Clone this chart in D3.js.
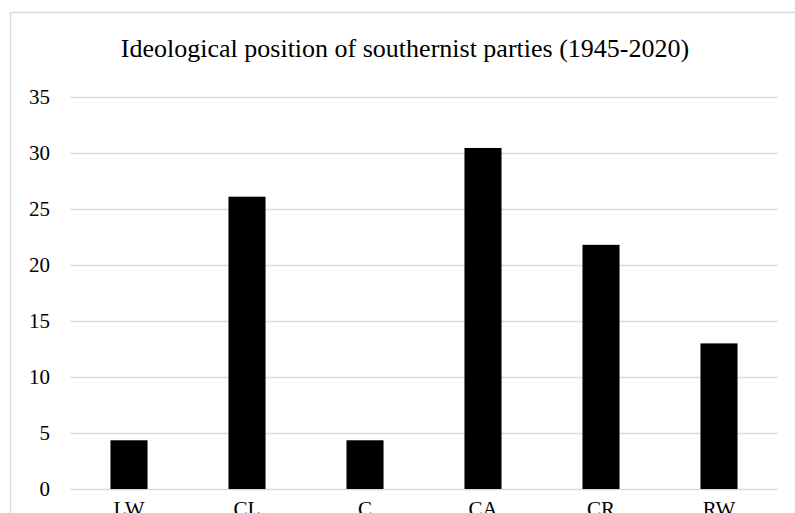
<!DOCTYPE html>
<html>
<head>
<meta charset="utf-8">
<script src="https://cdn.jsdelivr.net/npm/d3@7"></script>
<style>
  body { margin: 0; background: #fff; }
  svg { display: block; font-family: "Liberation Serif", "Times New Roman", "DejaVu Serif", serif; }
  svg text { font-family: "Liberation Serif", "Times New Roman", "DejaVu Serif", serif; }
</style>
</head>
<body>
<script>
const categories = ["LW", "CL", "C", "CA", "CR", "RW"];
const values = [4.35, 26.1, 4.35, 30.45, 21.8, 13.0];
const yTicks = [0, 5, 10, 15, 20, 25, 30, 35];
const title = "Ideological position of southernist parties (1945-2020)";

const width = 795, height = 513;
const margin = {top: 97, right: 17, bottom: 24, left: 70};

const svg = d3.select("body").append("svg")
  .attr("width", width)
  .attr("height", height);

// chart area border (right and bottom run past the window)
svg.append("rect")
  .attr("x", 10.5).attr("y", 12.5)
  .attr("width", 800).attr("height", 520)
  .attr("fill", "none")
  .attr("stroke", "#d9d9d9")
  .attr("stroke-width", 1.5);

const x = d3.scaleBand()
  .domain(categories)
  .range([margin.left, width - margin.right])
  .paddingInner(0.686)
  .paddingOuter(0.343);

const y = d3.scaleLinear()
  .domain([0, 35])
  .range([height - margin.bottom, margin.top]);

// gridlines + y labels
const yAxis = g => g
  .attr("transform", `translate(${margin.left},0)`)
  .call(d3.axisLeft(y).tickValues(yTicks).tickSize(-(width - margin.right - margin.left)).tickPadding(20))
  .call(g => g.select(".domain").remove())
  .call(g => g.selectAll(".tick line").attr("stroke", "#d9d9d9").attr("stroke-width", 1.5))
  .call(g => g.selectAll(".tick text")
    .attr("font-size", 21)
    .attr("fill", "#000")
    .attr("font-family", null));

svg.append("g").call(yAxis);

svg.append("g")
  .selectAll("rect")
  .data(values)
  .join("rect")
    .attr("x", (d, i) => x(categories[i]))
    .attr("y", d => y(d))
    .attr("width", x.bandwidth())
    .attr("height", d => y(0) - y(d))
    .attr("fill", "#000");

// x labels (sit low, partly below the window like the original)
const xAxis = g => g
  .attr("transform", `translate(0,${y(0)})`)
  .call(d3.axisBottom(x).tickSize(0).tickPadding(12))
  .call(g => g.select(".domain").remove())
  .call(g => g.selectAll(".tick text")
    .attr("font-size", 21)
    .attr("fill", "#000")
    .attr("font-family", null));

svg.append("g").call(xAxis);

svg.append("text")
  .attr("x", 405)
  .attr("y", 57)
  .attr("text-anchor", "middle")
  .attr("font-size", 26)
  .attr("fill", "#000")
  .text(title);
</script>
</body>
</html>
